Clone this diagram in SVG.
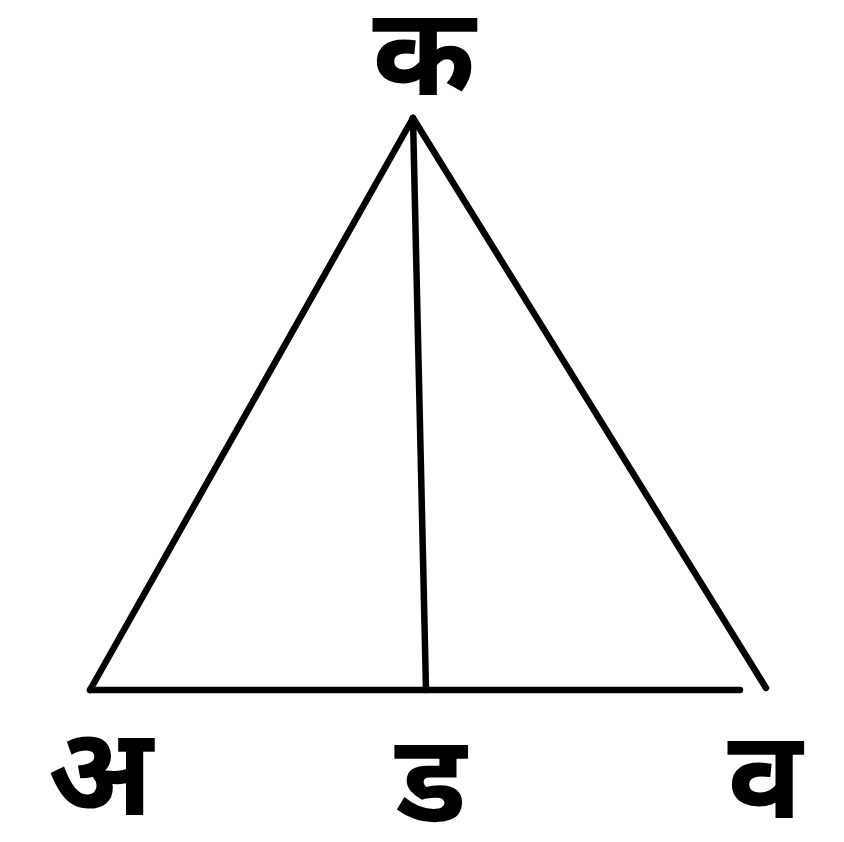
<svg xmlns="http://www.w3.org/2000/svg" width="844" height="842" viewBox="0 0 844 842">
<style>
.lbl{font-family:"Noto Sans Devanagari","Lohit Devanagari","Noto Sans","DejaVu Sans",sans-serif;font-size:124px;font-weight:bold;fill:#000;text-anchor:middle}
.ln{stroke:#000;stroke-width:6.5;stroke-linecap:round;fill:none}
</style>
<rect width="844" height="842" fill="#fff"/>
<g id="connectors">
<line class="ln" x1="413" y1="118" x2="90" y2="690"/>
<line class="ln" x1="413" y1="118" x2="766" y2="688"/>
<line class="ln" x1="413" y1="118" x2="426" y2="690"/>
<line class="ln" x1="90" y1="690" x2="740" y2="690"/>
</g>
<g id="node-ka"><text class="lbl" x="424" y="95">क</text></g>
<g id="node-a"><text class="lbl" x="100" y="815">अ</text></g>
<g id="node-da"><text class="lbl" x="431" y="822">ड</text></g>
<g id="node-va"><text class="lbl" x="765" y="818">व</text></g>
</svg>
